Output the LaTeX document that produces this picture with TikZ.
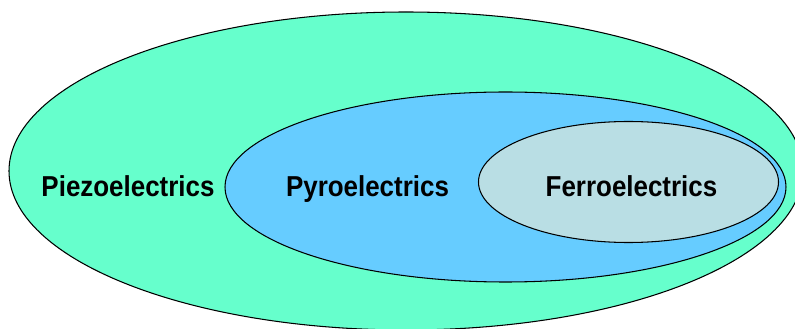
\documentclass[tikz,border=0pt]{standalone}
\usepackage{fontspec}
\setsansfont{Liberation Sans}
\definecolor{piezocol}{HTML}{66FFCC}
\definecolor{pyrocol}{HTML}{66CCFF}
\definecolor{ferrocol}{HTML}{B9DEE4}
\tikzset{
  classname/.style={font=\sffamily\bfseries\fontsize{16.4}{19}\selectfont, anchor=base, xscale=0.9, inner sep=0pt},
  classset/.style={draw=black, line width=0.6pt}
}
\begin{document}
\begin{tikzpicture}
			\useasboundingbox (0, 0) rectangle (15.9, 6.58);
			\clip (0, 0) rectangle (15.9, 6.58);
			\filldraw[classset, fill=piezocol] (8.12, 3.16) ellipse [x radius=7.94, y radius=3.18];
			\filldraw[classset, fill=pyrocol] (10.11, 2.84) ellipse [x radius=5.61, y radius=1.90];
			\filldraw[classset, fill=ferrocol] (12.57, 2.94) ellipse [x radius=3.0, y radius=1.21];
			\node[classname] (piezo) at (2.56, 2.646) {Piezoelectrics};
			\node[classname] (pyro) at (7.35, 2.646) {Pyroelectrics};
			\node[classname] (ferro) at (12.63, 2.646) {Ferroelectrics};
		\end{tikzpicture}
\end{document}
